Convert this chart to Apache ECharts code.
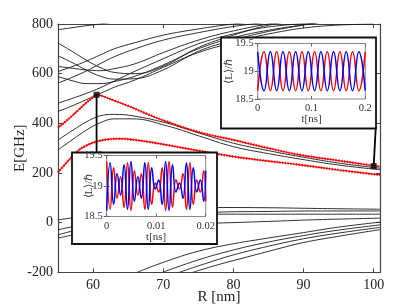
<!DOCTYPE html>
<html><head><meta charset="utf-8">
<script src="https://cdn.jsdelivr.net/npm/echarts@6/dist/echarts.min.js"></script>
<style>html,body{margin:0;padding:0;background:#fff}#c{width:411px;height:308px}</style>
</head><body><div id="c"></div>
<script>
// ---------- data ----------
const xTickValues = [60, 70, 80, 90, 100];
const yTickInterval = 200;

const redUpper = [[55,382],[56,405],[57,430],[58,456],[59,482],[60,505],[60.5,515],[61.5,508],[63,492],[65,470],[67.5,440],[70.5,407],[75,365],[80,333],[85,300],[89.5,273],[95,250],[100,229],[100.9,226]];
const redLower = [[55,202],[56,235],[57,265],[58,293],[59,310],[60,322],[61,330],[62,335],[63.8,338],[66,333],[68,325],[70.5,313],[75,290],[80,266],[85,248],[89.5,233],[95,212],[100.9,192]];

const midA = [[55,333],[57,370],[59,405],[61,430],[63,436],[65.7,430],[70.5,401],[75,362],[80,320],[85,290],[89.5,266],[95,240],[100.9,219]];
const midB = [[55,293],[57,333],[59,372],[61,402],[63,418],[65.7,418],[70.5,390],[75,350],[80,306],[85,278],[89.5,256],[95,232],[100.9,213]];

const upR = [55, 57, 59, 61, 63, 66, 70, 75, 80, 85, 92, 100];
const up1 = [777, 785, 793, 800, 808, 818];
const up2 = [723, 690, 655, 625, 605, 600, 630, 705, 755, 795, 830];
const up3 = [672, 645, 615, 590, 578, 580, 615, 690, 735, 770, 805];
const up4 = [629, 622, 615, 612, 620, 640, 685, 735, 772, 800, 830];
const up5 = [609, 628, 650, 675, 700, 725, 755, 780, 800, 815];
const up6 = [588, 572, 560, 560, 568, 590, 635, 700, 745, 775, 805];
const up7 = [562, 585, 610, 640, 668, 700, 735, 765, 790, 808];
const up8 = [481, 500, 520, 543, 570, 610, 660, 720, 760, 788, 805, 815];
const up9 = [448, 470, 495, 520, 545, 575, 625, 685, 725, 760, 790, 800];

const flat1 = [[55,11],[60,30],[65,42],[70,52],[77.5,61],[85,60],[92,57],[100.9,54]];
const flat2 = [[55,-29],[60,0],[65,18],[70,30],[77.5,42],[85,45],[92,47],[100.9,47]];
const flat3 = [[55,-49],[60,-15],[65,5],[70,20],[77.5,34],[85,34],[100.9,34]];
const flat4 = [[55,-62],[60,-35],[65,-18],[70,-8],[77.5,-2],[85,5],[92,12],[100.9,18]];

const rise1 = [[66.3,-200],[70,-160],[75,-115],[80,-85],[83.2,-70],[90,-40],[95,-18],[100.9,2]];
const rise2 = [[69.9,-200],[75,-150],[80,-110],[85,-78],[90,-52],[95,-30],[100.9,-9]];
const rise3 = [[72.3,-200],[76,-165],[80,-130],[85,-95],[90,-65],[95,-42],[100.9,-19]];
const rise4 = [[74.2,-200],[78,-168],[82,-138],[86,-108],[90,-80],[95,-55],[100.9,-28]];

const markA = [60.5, 515];
const markB = [100, 228];
const linkA = [[60.5,515],[60.5,282]];
const linkB = [[100,228],[100.3,385]];

// inset 1 (beating)
const in1Red = [[0,19.40],[0.0007,18.62],[0.0014,19.30],[0.0021,18.80],[0.0028,19.15],[0.0035,18.65],[0.0042,19.38],[0.0049,18.60],[0.0056,19.25],[0.0063,18.85],[0.0070,19.20],[0.0077,18.62],[0.0084,19.38],[0.0091,18.70],[0.0098,19.05],[0.0105,18.90],[0.0112,19.30],[0.0119,18.60],[0.0126,19.40],[0.0133,18.65],[0.0140,19.10],[0.0147,18.95],[0.0154,19.20],[0.0161,18.62],[0.0168,19.38],[0.0175,18.70],[0.0182,19.10],[0.0189,18.90],[0.0196,19.25],[0.0200,18.75]];
const in1Blue = [[0,18.60],[0.0007,19.38],[0.0014,18.70],[0.0021,19.20],[0.0028,18.85],[0.0035,19.35],[0.0042,18.62],[0.0049,19.40],[0.0056,18.75],[0.0063,19.15],[0.0070,18.80],[0.0077,19.38],[0.0084,18.62],[0.0091,19.30],[0.0098,18.95],[0.0105,19.10],[0.0112,18.70],[0.0119,19.40],[0.0126,18.60],[0.0133,19.35],[0.0140,18.90],[0.0147,19.05],[0.0154,18.80],[0.0161,19.38],[0.0168,18.62],[0.0175,19.30],[0.0182,18.90],[0.0189,19.10],[0.0196,18.75],[0.0200,19.25]];
// inset 2 (regular)
const in2Red = [[0,18.65],[0.0118,19.35],[0.0235,18.65],[0.0353,19.35],[0.047,18.65],[0.0588,19.35],[0.0705,18.65],[0.0823,19.35],[0.094,18.65],[0.1058,19.35],[0.1175,18.65],[0.1293,19.35],[0.141,18.65],[0.1528,19.35],[0.1645,18.65],[0.1763,19.35],[0.188,18.65],[0.1998,19.35]];
const in2Blue = [[0,19.35],[0.0118,18.65],[0.0235,19.35],[0.0353,18.65],[0.047,19.35],[0.0588,18.65],[0.0705,19.35],[0.0823,18.65],[0.094,19.35],[0.1058,18.65],[0.1175,19.35],[0.1293,18.65],[0.141,19.35],[0.1528,18.65],[0.1645,19.35],[0.1763,18.65],[0.188,19.35],[0.1998,18.65]];

// ---------- chart ----------
const FONT = 'Liberation Serif';
const AX = '#444';
const chart = echarts.init(document.getElementById('c'), null, {renderer: 'canvas'});

function zipR(xs, ys) { return ys.map((v, i) => [xs[i], v]); }

const blackLines = [
  zipR(upR, up1), zipR(upR, up2), zipR(upR, up3), zipR(upR, up4), zipR(upR, up5),
  zipR(upR, up6), zipR(upR, up7), zipR(upR, up8), zipR(upR, up9),
  midA, midB, flat1, flat2, flat3, flat4, rise1, rise2, rise3, rise4
];

const series = [];
blackLines.forEach(d => series.push({
  type: 'line', xAxisIndex: 0, yAxisIndex: 0, data: d, smooth: 0.4, showSymbol: false,
  lineStyle: {color: '#1a1a1a', width: 0.9}, z: 2, silent: true
}));
[redUpper, redLower].forEach(d => {
  series.push({type: 'line', xAxisIndex: 0, yAxisIndex: 0, data: d, smooth: 0.4, showSymbol: false,
    lineStyle: {color: '#ff0000', width: 1.2}, z: 3, silent: true});
  series.push({type: 'line', xAxisIndex: 0, yAxisIndex: 0, data: d, smooth: 0.4, showSymbol: false,
    lineStyle: {color: '#ee0000', width: 2.6, type: [1.2, 1.6], opacity: 0.8}, z: 3, silent: true});
});
[linkA, linkB].forEach(d => series.push({type: 'line', xAxisIndex: 0, yAxisIndex: 0, data: d, showSymbol: false,
  lineStyle: {color: '#000', width: 1.8}, z: 4, silent: true}));
series.push({type: 'scatter', xAxisIndex: 0, yAxisIndex: 0, data: [markA, markB], symbol: 'rect', symbolSize: 6,
  itemStyle: {color: '#000'}, z: 5, silent: true});

// insets
[[in1Red, '#ff0000'], [in1Blue, '#0000ff']].forEach(([d, c]) => series.push({
  type: 'line', xAxisIndex: 2, yAxisIndex: 2, data: d, smooth: 0.5, showSymbol: false,
  lineStyle: {color: c, width: 1.5}, z: 62, silent: true}));
[[in2Red, '#ff0000'], [in2Blue, '#0000ff']].forEach(([d, c]) => series.push({
  type: 'line', xAxisIndex: 4, yAxisIndex: 4, data: d, smooth: 0.5, showSymbol: false,
  lineStyle: {color: c, width: 1.5}, z: 62, silent: true}));

function axisCommon(extra) {
  return Object.assign({
    type: 'value', splitLine: {show: false}, nameMoveOverlap: false,
    axisLine: {show: true, onZero: false, lineStyle: {color: AX, width: 1.2}},
    axisTick: {show: true, inside: true, length: 4, lineStyle: {color: AX, width: 1}},
  }, extra);
}
const lblMain = {fontFamily: FONT, fontSize: 14, color: '#222'};
const lblIn = {fontFamily: FONT, fontSize: 10.5, color: '#333'};

const option = {
  animation: false,
  backgroundColor: '#fff',
  grid: [
    {left: 58, top: 24, width: 322, height: 248.3, z: 0, outerBoundsMode: 'none', containLabel: false},
    {left: 106.7, top: 155.5, width: 99, height: 61, z: 60, show: true, backgroundColor: '#fff', borderColor: '#888', borderWidth: 1, outerBoundsMode: 'none', containLabel: false},
    {left: 257.7, top: 43.5, width: 107.6, height: 55.5, z: 60, show: true, backgroundColor: '#fff', borderColor: '#888', borderWidth: 1, outerBoundsMode: 'none', containLabel: false}
  ],
  graphic: [
    {type: 'rect', z: 50, shape: {x: 72, y: 152.5, width: 145, height: 91.5}, style: {fill: '#fff', stroke: '#111', lineWidth: 1.8}},
    {type: 'rect', z: 50, shape: {x: 221, y: 37.5, width: 155, height: 91}, style: {fill: '#fff', stroke: '#111', lineWidth: 1.8}}
  ],
  xAxis: [
    axisCommon({gridIndex: 0, min: 55, max: 100.9, position: 'bottom',
      axisTick: {show: true, inside: true, length: 4, customValues: xTickValues, lineStyle: {color: AX}},
      axisLabel: Object.assign({customValues: xTickValues, margin: 6}, lblMain),
      name: 'R [nm]', nameLocation: 'middle', nameGap: 17,
      nameTextStyle: {fontFamily: FONT, fontSize: 15, color: '#222', verticalAlign: 'top'}}),
    axisCommon({gridIndex: 0, min: 55, max: 100.9, position: 'top',
      axisTick: {show: true, inside: true, length: 4, customValues: xTickValues, lineStyle: {color: AX}},
      axisLabel: {show: false}}),
    axisCommon({gridIndex: 1, min: 0, max: 0.02, interval: 0.01, position: 'bottom', z: 61,
      axisLine: {show: false}, axisTick: {show: true, inside: true, length: 3, lineStyle: {color: '#666'}},
      axisLabel: Object.assign({margin: 4}, lblIn),
      name: 't[ns]', nameLocation: 'middle', nameGap: 15, nameTextStyle: {fontFamily: FONT, fontSize: 11, color: '#333', verticalAlign: 'top'}}),
    axisCommon({gridIndex: 1, min: 0, max: 0.02, interval: 0.01, position: 'top', z: 61,
      axisLine: {show: false}, axisTick: {show: true, inside: true, length: 3, lineStyle: {color: '#666'}}, axisLabel: {show: false}}),
    axisCommon({gridIndex: 2, min: 0, max: 0.2, interval: 0.1, position: 'bottom', z: 61,
      axisLine: {show: false}, axisTick: {show: true, inside: true, length: 3, lineStyle: {color: '#666'}},
      axisLabel: Object.assign({margin: 4}, lblIn),
      name: 't[ns]', nameLocation: 'middle', nameGap: 15, nameTextStyle: {fontFamily: FONT, fontSize: 11, color: '#333', verticalAlign: 'top'}}),
    axisCommon({gridIndex: 2, min: 0, max: 0.2, interval: 0.1, position: 'top', z: 61,
      axisLine: {show: false}, axisTick: {show: true, inside: true, length: 3, lineStyle: {color: '#666'}}, axisLabel: {show: false}})
  ],
  yAxis: [
    axisCommon({gridIndex: 0, min: -200, max: 800, interval: yTickInterval, position: 'left',
      axisLabel: Object.assign({margin: 5}, lblMain),
      name: 'E[GHz]', nameLocation: 'middle', nameGap: 30,
      nameTextStyle: {fontFamily: FONT, fontSize: 15, color: '#222'}}),
    axisCommon({gridIndex: 0, min: -200, max: 800, interval: yTickInterval, position: 'right', axisLabel: {show: false}}),
    axisCommon({gridIndex: 1, min: 18.5, max: 19.5, interval: 0.5, position: 'left', z: 61,
      axisLine: {show: false}, axisTick: {show: true, inside: true, length: 3, lineStyle: {color: '#666'}},
      axisLabel: Object.assign({margin: 4}, lblIn),
      name: '⟨L⟩/ℏ', nameLocation: 'middle', nameGap: 12, nameTextStyle: {fontFamily: FONT, fontSize: 11, color: '#333'}}),
    axisCommon({gridIndex: 1, min: 18.5, max: 19.5, interval: 0.5, position: 'right', z: 61,
      axisLine: {show: false}, axisTick: {show: true, inside: true, length: 3, lineStyle: {color: '#666'}}, axisLabel: {show: false}}),
    axisCommon({gridIndex: 2, min: 18.5, max: 19.5, interval: 0.5, position: 'left', z: 61,
      axisLine: {show: false}, axisTick: {show: true, inside: true, length: 3, lineStyle: {color: '#666'}},
      axisLabel: Object.assign({margin: 4}, lblIn),
      name: '⟨L⟩/ℏ', nameLocation: 'middle', nameGap: 23, nameTextStyle: {fontFamily: FONT, fontSize: 11, color: '#333'}}),
    axisCommon({gridIndex: 2, min: 18.5, max: 19.5, interval: 0.5, position: 'right', z: 61,
      axisLine: {show: false}, axisTick: {show: true, inside: true, length: 3, lineStyle: {color: '#666'}}, axisLabel: {show: false}})
  ],
  series: series
};
chart.setOption(option);
</script></body></html>
